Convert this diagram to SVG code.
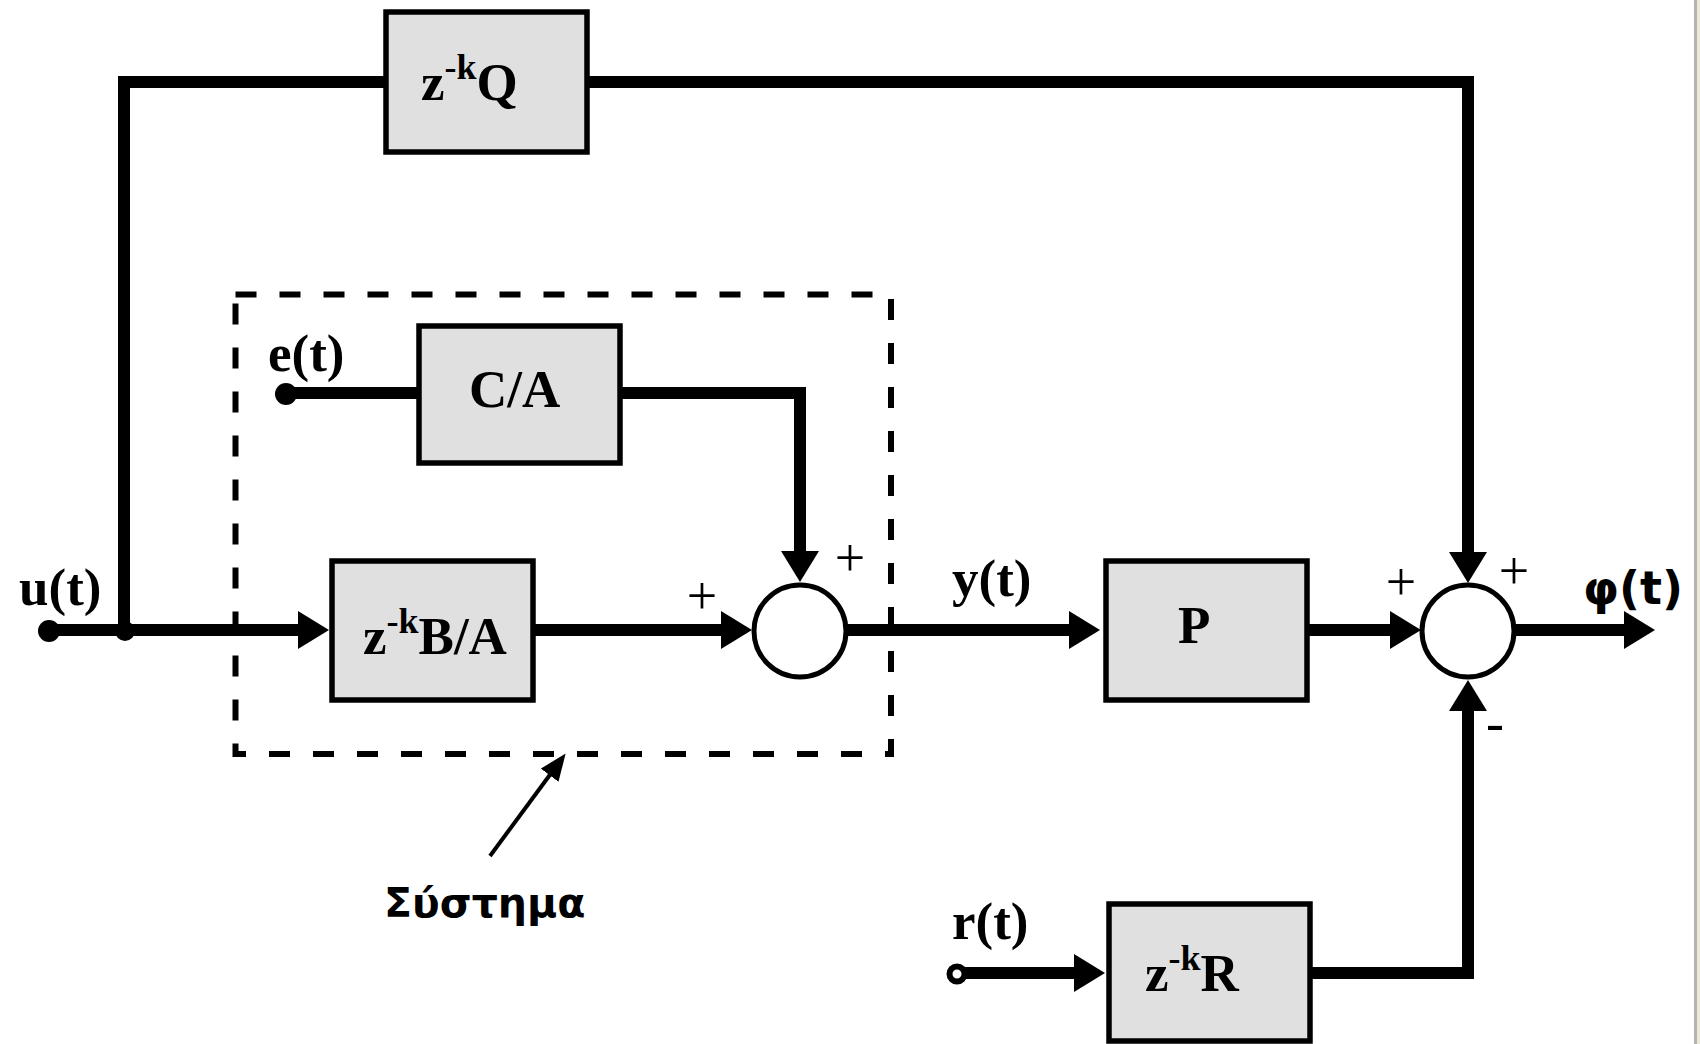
<svg xmlns="http://www.w3.org/2000/svg" width="1700" height="1044" viewBox="0 0 1700 1044">
<style>
  .box{fill:#e0e0e0;stroke:#000;stroke-width:5.5}
  .sum{fill:#fff;stroke:#000;stroke-width:5}
  .wire{fill:none;stroke:#000;stroke-width:12;stroke-linejoin:miter;stroke-linecap:butt}
  .lbl{font-family:"Liberation Serif","Times New Roman",serif;font-weight:bold;font-size:53px;fill:#000}
  .sign{font-family:"Liberation Serif","Times New Roman",serif;font-size:54px;fill:#000}
  .sans{font-family:"DejaVu Sans",Verdana,sans-serif;font-weight:bold;fill:#000}
</style>
<defs>
  <marker id="ah" markerUnits="userSpaceOnUse" markerWidth="31" markerHeight="38" viewBox="0 0 31 38" refX="6" refY="19" orient="auto">
    <path d="M0,0 L31,19 L0,38 Z" fill="#000"/>
  </marker>
  <marker id="ahs" markerUnits="userSpaceOnUse" markerWidth="27" markerHeight="22" viewBox="0 0 27 22" refX="4" refY="11" orient="auto">
    <path d="M0,0 L27,11 L0,22 Z" fill="#000"/>
  </marker>
</defs>
<rect x="0" y="0" width="1700" height="1044" fill="#fff"/>
<rect x="1694" y="0" width="3" height="1044" fill="#b4b4b4"/>
<rect x="1697" y="0" width="3" height="1044" fill="#ece9d8"/>

<g id="system-boundary">
  <rect x="235.5" y="294.5" width="655.5" height="459.5" fill="none" stroke="#000" stroke-width="6" stroke-dasharray="21 23"/>
</g>

<g id="connectors">
  <path class="wire" d="M49,630 H304" marker-end="url(#ah)"/>
  <path class="wire" d="M124,630 V82 H386"/>
  <path class="wire" d="M587,82 H1468 V558" marker-end="url(#ah)"/>
  <path class="wire" d="M286,393 H419"/>
  <path class="wire" d="M620,393 H800 V557" marker-end="url(#ah)"/>
  <path class="wire" d="M533,630 H727" marker-end="url(#ah)"/>
  <path class="wire" d="M848,630 H1075" marker-end="url(#ah)"/>
  <path class="wire" d="M1307,630 H1396" marker-end="url(#ah)"/>
  <path class="wire" d="M1516,630 H1630" marker-end="url(#ah)"/>
  <path class="wire" d="M957,973 H1080" marker-end="url(#ah)"/>
  <path class="wire" d="M1310,973 H1468 V705" marker-end="url(#ah)"/>
  <path d="M490,856 L552,772" fill="none" stroke="#000" stroke-width="4" marker-end="url(#ahs)"/>
</g>

<g id="u-input">
  <circle cx="49" cy="631" r="11" fill="#000"/>
  <text class="lbl" x="19" y="605">u(t)</text>
</g>
<g id="junction">
  <circle cx="125" cy="631" r="10" fill="#000"/>
</g>
<g id="e-input">
  <circle cx="286" cy="394" r="11" fill="#000"/>
  <text class="lbl" x="268" y="371">e(t)</text>
</g>
<g id="r-input">
  <circle cx="957" cy="974" r="7.5" fill="#fff" stroke="#000" stroke-width="6"/>
  <text class="lbl" x="952" y="939">r(t)</text>
</g>

<g id="block-Q">
  <rect class="box" x="386" y="12" width="201" height="140"/>
  <text class="lbl" x="421" y="100">z<tspan font-size="36" dy="-21">-k</tspan><tspan dy="21">Q</tspan></text>
</g>
<g id="block-CA">
  <rect class="box" x="419" y="326" width="201" height="137"/>
  <text class="lbl" x="469" y="407">C/A</text>
</g>
<g id="block-BA">
  <rect class="box" x="332" y="561" width="201" height="139"/>
  <text class="lbl" x="363" y="654">z<tspan font-size="36" dy="-21">-k</tspan><tspan dy="21">B/A</tspan></text>
</g>
<g id="block-P">
  <rect class="box" x="1106" y="561" width="201" height="139"/>
  <text class="lbl" x="1178" y="643">P</text>
</g>
<g id="block-R">
  <rect class="box" x="1109" y="904" width="201" height="137"/>
  <text class="lbl" x="1145" y="991">z<tspan font-size="36" dy="-21">-k</tspan><tspan dy="21">R</tspan></text>
</g>

<g id="sum1">
  <circle class="sum" cx="800" cy="631" r="46"/>
  <text class="sign" x="702" y="614" text-anchor="middle">+</text>
  <text class="sign" x="850" y="576" text-anchor="middle">+</text>
</g>
<g id="y-label">
  <text class="lbl" x="952" y="596">y(t)</text>
</g>
<g id="sum2">
  <circle class="sum" cx="1468" cy="631" r="46"/>
  <text class="sign" x="1401" y="600" text-anchor="middle">+</text>
  <text class="sign" x="1514" y="589" text-anchor="middle">+</text>
  <text class="sign" x="1495" y="741" text-anchor="middle">-</text>
</g>
<g id="phi-output">
  <text class="sans" x="1583" y="604" font-size="46">φ(t)</text>
</g>
<g id="system-label">
  <text class="sans" x="384" y="917" font-size="41">Σύστημα</text>
</g>
</svg>
